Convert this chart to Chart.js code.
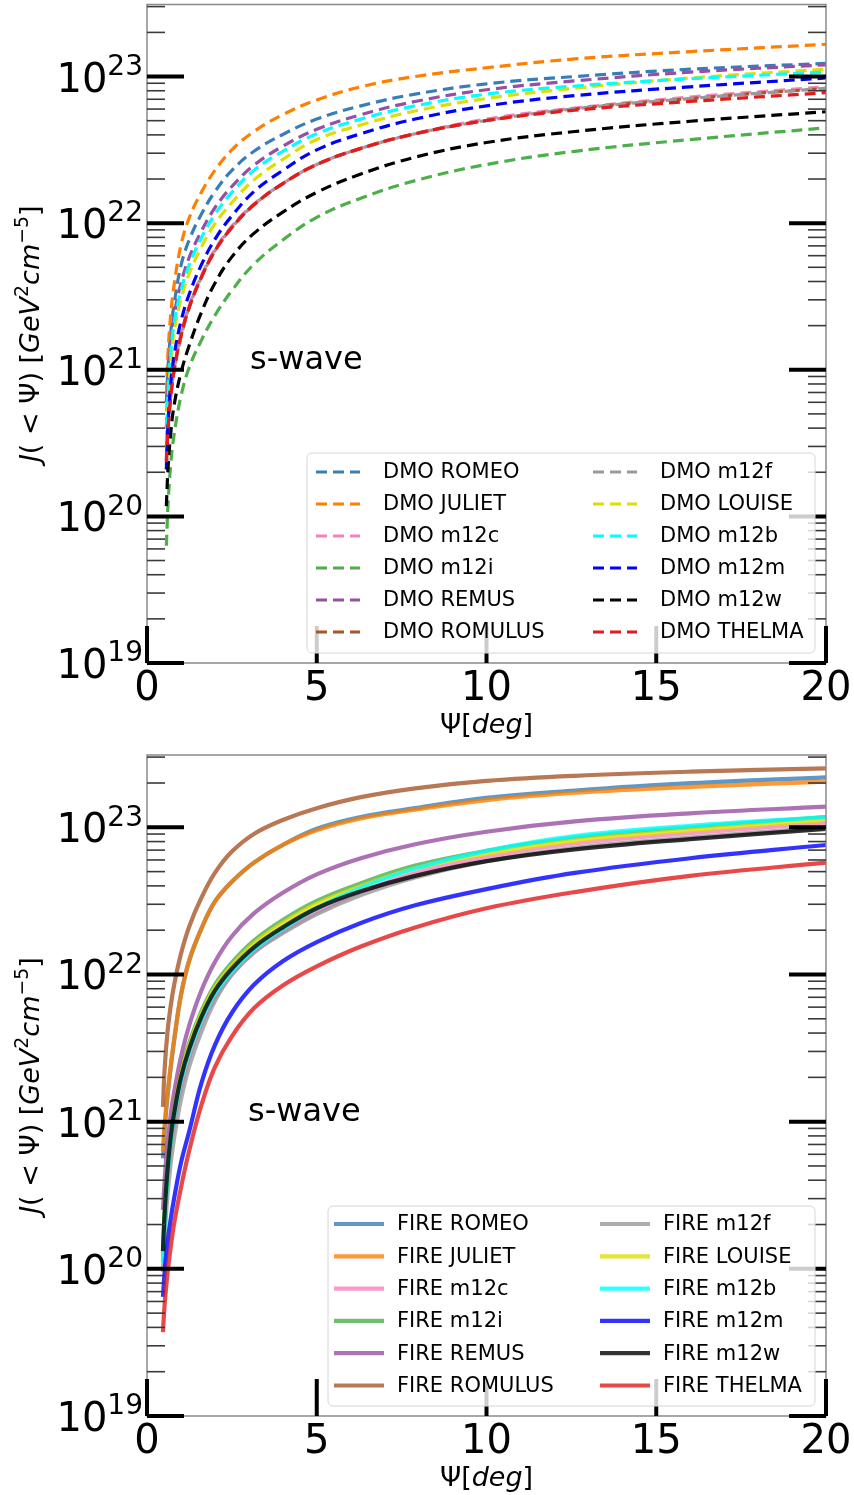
<!DOCTYPE html>
<html lang="en">
<head>
  <meta charset="UTF-8">
  <title>J-factor s-wave, DMO vs FIRE</title>
  <script src="https://cdn.jsdelivr.net/npm/chart.js"></script>
  <style>
    body { margin: 0; background: #fff; }
    canvas { display: block; }
  </style>
</head>
<body>
  <canvas id="dmoChart" width="854" height="745"></canvas>
  <canvas id="fireChart" width="854" height="750"></canvas>

  <script>
    // halo names and colours (same order in both panels)
    const halos = ['ROMEO', 'JULIET', 'm12c', 'm12i', 'REMUS', 'ROMULUS',
                   'm12f', 'LOUISE', 'm12b', 'm12m', 'm12w', 'THELMA'];
    const haloColors = ['#377eb8', '#ff7f00', '#f781bf', '#4daf4a', '#984ea3', '#a65628',
                        '#999999', '#dede00', '#00ffff', '#0000ff', '#000000', '#e41a1c'];

    // opening angle Psi [deg]
    const psiDMO  = [0.57, 0.62, 0.7, 0.8, 1, 1.25, 1.6, 2, 2.5, 3.15, 4, 5, 6.3, 7.9, 10, 12.6, 16, 20];
    const psiFIRE = [0.47, 0.52, 0.6, 0.7, 0.8, 1, 1.25, 1.6, 2, 2.5, 3.15, 4, 5, 6.3, 7.9, 10, 12.6, 16, 20];

    // log10 of J(<Psi) [GeV^2 cm^-5]
    const dmoRomeo   = [20.78, 21.02, 21.26, 21.45, 21.71, 21.89, 22.06, 22.215, 22.36, 22.49, 22.605, 22.71, 22.80, 22.88, 22.95, 23.00, 23.05, 23.09];
    const dmoJuliet  = [20.84, 21.12, 21.38, 21.58, 21.85, 22.04, 22.21, 22.36, 22.50, 22.625, 22.74, 22.84, 22.93, 23.00, 23.06, 23.12, 23.17, 23.22];
    const dmoM12c    = [20.40, 20.62, 20.83, 21.01, 21.24, 21.44, 21.64, 21.82, 21.98, 22.13, 22.27, 22.40, 22.51, 22.61, 22.71, 22.785, 22.86, 22.93];
    const dmoM12i    = [19.80, 20.08, 20.36, 20.56, 20.82, 21.02, 21.20, 21.37, 21.54, 21.72, 21.885, 22.04, 22.17, 22.29, 22.40, 22.49, 22.57, 22.65];
    const dmoRemus   = [20.60, 20.90, 21.17, 21.37, 21.59, 21.77, 21.945, 22.105, 22.25, 22.395, 22.525, 22.64, 22.74, 22.83, 22.91, 22.97, 23.03, 23.08];
    const dmoRomulus = [20.38, 20.61, 20.82, 21.00, 21.23, 21.43, 21.63, 21.81, 21.97, 22.125, 22.27, 22.40, 22.51, 22.61, 22.70, 22.78, 22.85, 22.92];
    const dmoM12f    = [20.35, 20.59, 20.81, 20.99, 21.22, 21.43, 21.63, 21.81, 21.97, 22.125, 22.27, 22.40, 22.51, 22.61, 22.70, 22.78, 22.85, 22.92];
    const dmoLouise  = [20.48, 20.79, 21.06, 21.26, 21.48, 21.66, 21.835, 21.995, 22.14, 22.295, 22.435, 22.57, 22.67, 22.765, 22.85, 22.92, 22.99, 23.05];
    const dmoM12b    = [20.51, 20.84, 21.12, 21.32, 21.54, 21.72, 21.90, 22.06, 22.21, 22.36, 22.49, 22.61, 22.71, 22.80, 22.88, 22.935, 22.985, 23.03];
    const dmoM12m    = [20.32, 20.63, 20.91, 21.10, 21.33, 21.52, 21.715, 21.89, 22.05, 22.215, 22.36, 22.50, 22.61, 22.71, 22.80, 22.87, 22.93, 22.99];
    const dmoM12w    = [20.07, 20.33, 20.57, 20.76, 20.98, 21.17, 21.39, 21.59, 21.77, 21.93, 22.075, 22.21, 22.335, 22.45, 22.55, 22.625, 22.695, 22.76];
    const dmoThelma  = [20.37, 20.60, 20.82, 21.00, 21.23, 21.43, 21.63, 21.81, 21.97, 22.125, 22.27, 22.40, 22.51, 22.61, 22.70, 22.77, 22.83, 22.89];

    const fireRomeo   = [20.75, 20.95, 21.16, 21.37, 21.55, 21.86, 22.10, 22.31, 22.495, 22.63, 22.76, 22.88, 22.99, 23.07, 23.13, 23.20, 23.25, 23.30, 23.34];
    const fireJuliet  = [20.80, 20.98, 21.18, 21.38, 21.56, 21.86, 22.10, 22.31, 22.495, 22.63, 22.76, 22.88, 22.98, 23.06, 23.12, 23.185, 23.235, 23.275, 23.31];
    const fireM12c    = [20.05, 20.30, 20.58, 20.82, 20.99, 21.23, 21.44, 21.66, 21.84, 22.00, 22.15, 22.29, 22.42, 22.56, 22.69, 22.80, 22.89, 22.96, 23.03];
    const fireM12i    = [20.10, 20.37, 20.67, 20.92, 21.09, 21.34, 21.54, 21.75, 21.93, 22.08, 22.23, 22.37, 22.50, 22.62, 22.74, 22.84, 22.93, 23.00, 23.07];
    const fireRemus   = [20.40, 20.60, 20.84, 21.05, 21.20, 21.44, 21.66, 21.89, 22.085, 22.26, 22.415, 22.555, 22.68, 22.79, 22.885, 22.97, 23.04, 23.095, 23.14];
    const fireRomulus = [21.10, 21.36, 21.60, 21.79, 21.93, 22.14, 22.33, 22.52, 22.69, 22.835, 22.955, 23.05, 23.13, 23.205, 23.265, 23.315, 23.35, 23.378, 23.40];
    const fireM12f    = [19.98, 20.22, 20.49, 20.72, 20.89, 21.15, 21.38, 21.61, 21.82, 22.00, 22.15, 22.28, 22.41, 22.54, 22.66, 22.77, 22.86, 22.93, 23.00];
    const fireLouise  = [20.08, 20.35, 20.65, 20.90, 21.07, 21.32, 21.52, 21.73, 21.91, 22.06, 22.21, 22.35, 22.48, 22.60, 22.72, 22.82, 22.91, 22.98, 23.05];
    const fireM12b    = [20.04, 20.32, 20.62, 20.87, 21.04, 21.28, 21.48, 21.69, 21.87, 22.02, 22.17, 22.31, 22.45, 22.59, 22.72, 22.84, 22.94, 23.01, 23.07];
    const fireM12m    = [19.81, 19.98, 20.17, 20.34, 20.48, 20.72, 20.94, 21.26, 21.52, 21.74, 21.93, 22.09, 22.22, 22.35, 22.47, 22.58, 22.69, 22.79, 22.88];
    const fireM12w    = [20.12, 20.38, 20.66, 20.90, 21.06, 21.30, 21.50, 21.71, 21.89, 22.04, 22.185, 22.32, 22.45, 22.565, 22.67, 22.77, 22.85, 22.92, 22.99];
    const fireThelma  = [19.57, 19.76, 19.96, 20.15, 20.31, 20.55, 20.81, 21.11, 21.37, 21.58, 21.77, 21.925, 22.055, 22.19, 22.32, 22.45, 22.56, 22.67, 22.76];

    const dmoSeries  = [dmoRomeo, dmoJuliet, dmoM12c, dmoM12i, dmoRemus, dmoRomulus,
                        dmoM12f, dmoLouise, dmoM12b, dmoM12m, dmoM12w, dmoThelma];
    const fireSeries = [fireRomeo, fireJuliet, fireM12c, fireM12i, fireRemus, fireRomulus,
                        fireM12f, fireLouise, fireM12b, fireM12m, fireM12w, fireThelma];

    // axis ticks
    const xTicks = [0, 5, 10, 15, 20];
    const yExponents = [19, 20, 21, 22, 23];

    const FONT = "'DejaVu Sans', sans-serif";

    function withAlpha(hex, a) {
      const n = parseInt(hex.slice(1), 16);
      return 'rgba(' + (n >> 16) + ',' + ((n >> 8) & 255) + ',' + (n & 255) + ',' + a + ')';
    }

    // draw a list of text runs (italic / superscript) along one baseline
    function runsWidth(ctx, runs, size) {
      let w = 0;
      runs.forEach(r => {
        const s = r.sup ? size * 0.7 : size;
        ctx.font = (r.i ? 'italic ' : '') + s + 'px ' + FONT;
        w += ctx.measureText(r.t).width;
      });
      return w;
    }
    function drawRuns(ctx, runs, x, y, size) {
      let cx = x;
      runs.forEach(r => {
        const s = r.sup ? size * 0.7 : size;
        ctx.font = (r.i ? 'italic ' : '') + s + 'px ' + FONT;
        ctx.fillText(r.t, cx, r.sup ? y - size * 0.42 : y);
        cx += ctx.measureText(r.t).width;
      });
    }

    function line(ctx, x1, y1, x2, y2) {
      ctx.beginPath(); ctx.moveTo(x1, y1); ctx.lineTo(x2, y2); ctx.stroke();
    }

    function decoPlugin(opt) {
      return {
        id: 'deco',
        afterDatasetsDraw(chart) {
          const ctx = chart.ctx, a = chart.chartArea;
          const xs = chart.scales.x, ys = chart.scales.y;
          ctx.save();

          // frame
          ctx.strokeStyle = '#8a8a8a';
          ctx.lineWidth = 1.5;
          ctx.strokeRect(a.left, a.top, a.right - a.left, a.bottom - a.top);

          // minor y ticks, both sides, inward
          ctx.strokeStyle = '#3a3a3a';
          ctx.lineWidth = 1.6;
          for (let e = 19; e <= 23; e++) {
            for (let m = 2; m <= 9; m++) {
              const v = m * Math.pow(10, e);
              if (v > ys.max) break;
              const py = ys.getPixelForValue(v);
              line(ctx, a.left, py, a.left + 18, py);
              line(ctx, a.right - 18, py, a.right, py);
            }
          }

          // major ticks
          ctx.strokeStyle = '#000';
          ctx.lineWidth = 4;
          yExponents.forEach(e => {
            const py = ys.getPixelForValue(Math.pow(10, e));
            line(ctx, a.left, py, a.left + 37, py);
            line(ctx, a.right - 37, py, a.right, py);
          });
          xTicks.forEach(t => {
            const px = xs.getPixelForValue(t);
            line(ctx, px, a.bottom, px, a.bottom - 37);
          });

          // tick labels
          ctx.fillStyle = '#000';
          ctx.textBaseline = 'alphabetic';
          ctx.textAlign = 'left';
          yExponents.forEach(e => {
            const py = ys.getPixelForValue(Math.pow(10, e));
            const runs = [{ t: '10' }, { t: String(e), sup: true }];
            const w = runsWidth(ctx, runs, 40);
            drawRuns(ctx, runs, 143 - w, py + 15, 40);
          });
          ctx.font = '40px ' + FONT;
          ctx.textAlign = 'center';
          xTicks.forEach(t => {
            ctx.fillText(String(t), xs.getPixelForValue(t), a.bottom + 37);
          });

          // axis titles
          ctx.textAlign = 'left';
          const xt = [{ t: 'Ψ[' }, { t: 'deg', i: true }, { t: ']' }];
          const xw = runsWidth(ctx, xt, 27);
          drawRuns(ctx, xt, (a.left + a.right) / 2 - xw / 2, a.bottom + 70, 27);

          const yt = [{ t: 'J', i: true }, { t: '( < Ψ) [' }, { t: 'GeV', i: true }, { t: '2', sup: true },
                      { t: 'cm', i: true }, { t: '−5', sup: true }, { t: ']' }];
          const yw = runsWidth(ctx, yt, 27);
          ctx.save();
          ctx.translate(39, (a.top + a.bottom) / 2);
          ctx.rotate(-Math.PI / 2);
          drawRuns(ctx, yt, -yw / 2, 0, 27);
          ctx.restore();

          // annotation
          ctx.font = '32px ' + FONT;
          ctx.fillText('s-wave', opt.waveX, opt.waveY);

          // legend
          const L = opt.legend;
          ctx.beginPath();
          ctx.roundRect(L.x, L.y, L.w, L.h, 5);
          ctx.fillStyle = 'rgba(255,255,255,0.8)';
          ctx.fill();
          ctx.strokeStyle = '#d6d6d6';
          ctx.lineWidth = 1;
          ctx.stroke();
          ctx.font = '21px ' + FONT;
          ctx.textBaseline = 'middle';
          halos.forEach((h, i) => {
            const col = Math.floor(i / 6), row = i % 6;
            const ly = L.rowY + row * L.rowH;
            const lx = L.colX[col];
            ctx.strokeStyle = opt.dashed ? haloColors[i] : withAlpha(haloColors[i], 0.8);
            ctx.lineWidth = opt.width;
            ctx.setLineDash(opt.dashed ? [11, 6] : []);
            line(ctx, lx, ly, lx + L.lineW, ly);
            ctx.setLineDash([]);
            ctx.fillStyle = '#000';
            ctx.fillText(opt.prefix + ' ' + h, lx + L.textDx, ly + 1);
          });

          ctx.restore();
        }
      };
    }

    function makeChart(id, psi, series, opt) {
      const datasets = series.map((s, i) => ({
        label: opt.prefix + ' ' + halos[i],
        data: s.map((v, k) => ({ x: psi[k], y: Math.pow(10, v) })),
        borderColor: opt.dashed ? haloColors[i] : withAlpha(haloColors[i], 0.8),
        borderWidth: opt.width,
        borderDash: opt.dashed ? [11, 6] : [],
        pointRadius: 0,
        tension: 0.4,
        fill: false,
        order: series.length - i
      }));
      return new Chart(document.getElementById(id).getContext('2d'), {
        type: 'line',
        data: { datasets: datasets },
        options: {
          responsive: false,
          animation: false,
          layout: { padding: opt.padding },
          scales: {
            x: { type: 'linear', min: 0, max: 20, display: false },
            y: { type: 'logarithmic', min: 1e19, max: 3.1e23, display: false }
          },
          plugins: { legend: { display: false }, tooltip: { enabled: false } }
        },
        plugins: [decoPlugin(opt)]
      });
    }

    makeChart('dmoChart', psiDMO, dmoSeries, {
      prefix: 'DMO', dashed: true, width: 3.2,
      padding: { left: 147, right: 28, top: 4.5, bottom: 82 },
      waveX: 250, waveY: 369,
      legend: { x: 307, y: 453, w: 508, h: 200, rowY: 472, rowH: 32,
                colX: [316, 593], lineW: 44, textDx: 67 }
    });

    makeChart('fireChart', psiFIRE, fireSeries, {
      prefix: 'FIRE', dashed: false, width: 4.2,
      padding: { left: 147, right: 28, top: 10, bottom: 79 },
      waveX: 248, waveY: 376,
      legend: { x: 328, y: 461, w: 487, h: 200, rowY: 479, rowH: 32.3,
                colX: [334, 600], lineW: 50, textDx: 63 }
    });
  </script>
</body>
</html>
